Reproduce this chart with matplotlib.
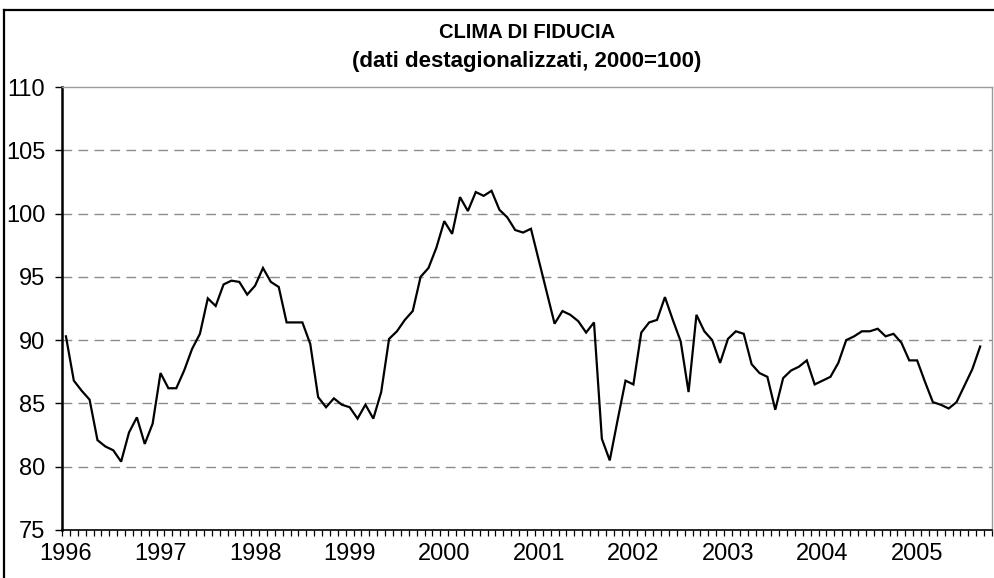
import matplotlib
matplotlib.use("Agg")
import matplotlib.pyplot as plt
from matplotlib.lines import Line2D
from matplotlib import font_manager
import numpy as np

plt.rcParams['font.family'] = ['Liberation Sans', 'DejaVu Sans']

title = "CLIMA DI FIDUCIA"
subtitle = "(dati destagionalizzati, 2000=100)"
year_labels = ['1996', '1997', '1998', '1999', '2000', '2001', '2002', '2003', '2004', '2005']
# monthly values Jan 1996 - Sep 2005
values = [90.3, 86.8, 86.0, 85.3, 82.1, 81.6, 81.3, 80.4, 82.7, 83.9, 81.8, 83.4,
          87.4, 86.2, 86.2, 87.6, 89.3, 90.5, 93.3, 92.7, 94.4, 94.7, 94.6, 93.6,
          94.3, 95.7, 94.6, 94.2, 91.4, 91.4, 91.4, 89.7, 85.5, 84.7, 85.4, 84.9,
          84.7, 83.8, 84.9, 83.8, 85.9, 90.1, 90.7, 91.6, 92.3, 95.0, 95.7, 97.3,
          99.4, 98.4, 101.3, 100.2, 101.7, 101.4, 101.8, 100.3, 99.7, 98.7, 98.5, 98.8,
          96.3, 93.8, 91.3, 92.3, 92.0, 91.5, 90.6, 91.4, 82.2, 80.5, 83.7, 86.8,
          86.5, 90.6, 91.4, 91.6, 93.4, 91.6, 89.9, 85.9, 92.0, 90.7, 90.0, 88.2,
          90.1, 90.7, 90.5, 88.1, 87.4, 87.1, 84.5, 87.0, 87.6, 87.9, 88.4, 86.5,
          86.8, 87.1, 88.2, 90.0, 90.3, 90.7, 90.7, 90.9, 90.3, 90.5, 89.8, 88.4,
          88.4, 86.7, 85.1, 84.9, 84.6, 85.1, 86.4, 87.7, 89.5]
n_categories = len(values) + 1  # one trailing empty month on the category axis
y_ticks = [75, 80, 85, 90, 95, 100, 105, 110]

W, H = 995, 578
fig = plt.figure(figsize=(W / 100, H / 100), dpi=100)
ax = fig.add_axes([62 / W, (H - 530) / H, (992 - 62) / W, (530 - 87) / H])

x = np.arange(len(values))
ax.plot(x, values, color='black', lw=1.6, solid_joinstyle='miter', zorder=3)

ax.set_xlim(-0.5, n_categories - 0.5)
ax.set_ylim(75, 110)

# gridlines
ax.set_yticks(y_ticks)
ax.set_yticklabels([str(t) for t in y_ticks])
for t in y_ticks[1:-1]:
    ax.axhline(t, color='#8c8c8c', lw=1.0, dashes=(7, 4.5), zorder=1)

# x axis: category boundary ticks (minor) and year labels (major)
ax.set_xticks(np.arange(0, len(values), 12))
ax.set_xticklabels(year_labels)
ax.set_xticks(np.arange(n_categories + 1) - 0.5, minor=True)
ax.tick_params(axis='x', which='major', length=0, pad=9, labelsize=17)
ax.tick_params(axis='x', which='minor', length=4.5, width=0.9, direction='out', color='black')
ax.tick_params(axis='y', which='major', length=5, width=1.0, direction='out', pad=7, labelsize=17)

for s in ['top', 'right']:
    ax.spines[s].set_color('#9a9a9a')
    ax.spines[s].set_linewidth(1.0)
ax.spines['left'].set_color('black')
ax.spines['left'].set_linewidth(1.8)
ax.spines['bottom'].set_color('black')
ax.spines['bottom'].set_linewidth(1.2)

# chart-area border (left and top visible)
fig.add_artist(Line2D([4 / W, 4 / W], [0, (H - 10) / H], transform=fig.transFigure, color='black', lw=1.6))
fig.add_artist(Line2D([4 / W, 1], [(H - 10) / H, (H - 10) / H], transform=fig.transFigure, color='black', lw=1.6))

names = {f.name for f in font_manager.fontManager.ttflist}
title_family = ['Liberation Sans Narrow', 'Liberation Sans'] if 'Liberation Sans Narrow' in names else ['Liberation Sans']
fig.text(527 / W, (H - 33) / H, title, ha='center', va='center', fontsize=14.5,
         fontweight='bold', family=title_family)
fig.text(527 / W, (H - 62) / H, subtitle, ha='center', va='center', fontsize=16, fontweight='bold')

fig.savefig('out.png', dpi=100, facecolor='white')
